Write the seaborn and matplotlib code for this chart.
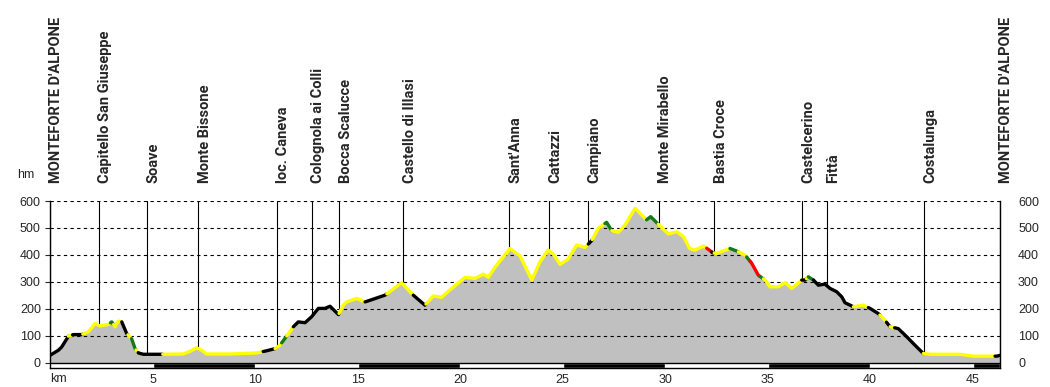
import numpy as np
import pandas as pd
import matplotlib
matplotlib.use("Agg")
import matplotlib.pyplot as plt
import seaborn as sns
from matplotlib.transforms import offset_copy

# elevation profile (km, metres)
km = [0, 0.41, 0.57, 0.9, 1.14, 1.55, 1.87, 2.2, 2.44, 2.85, 3.01, 3.17, 3.33, 3.5,
      3.74, 3.98, 4.15, 4.31, 4.55, 5.52, 6.5, 6.83, 7.15, 7.4, 7.64, 8.78, 10.08,
      10.57, 10.98, 11.22, 11.54, 11.87, 12.11, 12.44, 12.76, 13.09, 13.41, 13.66,
      14.07, 14.31, 14.47, 14.96, 15.37, 16.34, 17.15, 17.72, 18.29, 18.7, 19.1, 19.5,
      20.24, 20.73, 21.14, 21.38, 21.7, 22.44, 22.93, 23.5, 23.9, 24.3, 24.55, 24.88,
      25.28, 25.69, 26.1, 26.42, 26.75, 27.15, 27.4, 27.72, 28.05, 28.54, 29.1, 29.3,
      29.67, 30.16, 30.57, 30.9, 31.2, 31.46, 31.87, 32.11, 32.33, 32.52, 33.17, 33.58,
      33.9, 34.23, 34.55, 34.88, 35.12, 35.53, 35.85, 36.1, 36.18, 36.67, 36.83, 36.99,
      37.24, 37.48, 37.8, 38.05, 38.37, 38.62, 38.78, 39.19, 39.67, 40.0, 40.4, 40.65,
      40.98, 41.38, 41.79, 42.11, 42.6, 42.93, 44.39, 45.04, 46.18, 46.34]
elev = [28, 47, 59, 99, 105, 105, 115, 146, 137, 143, 152, 134, 155, 152,
        109, 90, 53, 37, 32, 32, 33, 43, 56, 47, 33, 33, 37,
        45, 53, 66, 99, 134, 152, 149, 171, 202, 202, 210,
        179, 214, 226, 239, 226, 251, 297, 251, 214, 248, 243, 270,
        317, 313, 329, 317, 354, 424, 396, 307, 375, 418, 403, 365,
        385, 437, 428, 453, 499, 521, 490, 484, 511, 573, 530, 542,
        514, 478, 486, 468, 424, 418, 433, 421, 408, 406, 424, 412,
        400, 369, 325, 307, 282, 282, 297, 282, 276, 307, 307, 319,
        307, 288, 292, 276, 264, 245, 223, 208, 214, 202, 183, 165,
        134, 127, 97, 72, 35, 32, 32, 25, 25, 28]

# coloured stretches of the track: start km and colour code
seg_start = [0, 0.9, 1.1, 1.6, 2.95, 3.1, 3.5, 3.8, 3.98, 4.2, 4.3, 5.5, 10.4, 10.98,
             11.3, 11.55, 11.87, 14.1, 15.37, 16.43, 17.72, 18.34, 26.26, 26.45, 27.07,
             27.4, 29.1, 29.67, 32.03, 32.28, 32.4, 33.17, 33.58, 33.98, 34.15, 34.63,
             34.8, 36.67, 36.9, 36.99, 37.24, 39.19, 39.92, 40.48, 40.8, 40.98, 41.2,
             42.6, 46.1]
seg_kind = list("kykygykygykykygykykykykygygyrkygygrgykygkykykykyk")

# waypoints
wp_names = ["MONTEFORTE D'ALPONE", "Capitello San Giuseppe", "Soave", "Monte Bissone",
            "loc. Caneva", "Colognola ai Colli", "Bocca Scalucce", "Castello di Illasi",
            "Sant'Anna", "Cattazzi", "Campiano", "Monte Mirabello", "Bastia Croce",
            "Castelcerino", "Fittà", "Costalunga", "MONTEFORTE D'ALPONE"]
wp_km = [0, 2.39, 4.72, 7.24, 11.05, 12.78, 14.1, 17.24, 22.39, 24.34, 26.24, 29.7,
         32.39, 36.68, 37.9, 42.63, 46.34]

y_ticks = [0, 100, 200, 300, 400, 500, 600]
x_ticks = [5, 10, 15, 20, 25, 30, 35, 40, 45]

colors = {"k": "#000000", "y": "#ffff00", "g": "#157a15", "r": "#ff0000"}

km = np.array(km)
elev = np.array(elev)
end_km = km[-1]

# build one frame with a row group per coloured stretch
rows = []
bounds = seg_start + [end_km]
for i in range(len(seg_start)):
    a, b = bounds[i], bounds[i + 1]
    inner = km[(km > a) & (km < b)]
    xs = np.concatenate([[a], inner, [b]])
    ys = np.interp(xs, km, elev)
    for x, y in zip(xs, ys):
        rows.append({"km": x, "elev": y, "seg": f"s{i:02d}"})
df = pd.DataFrame(rows)
palette = {f"s{i:02d}": colors[c] for i, c in enumerate(seg_kind)}

sns.set_style("white")
plt.rcParams["font.family"] = ["Liberation Sans", "DejaVu Sans"]

fig = plt.figure(figsize=(10.5, 3.87), dpi=100)
ax = fig.add_axes([50 / 1050, 1 - 367.5 / 387, 950 / 1050, (367.5 - 201) / 387])

ax.fill_between(km, elev, 0, color="#c0c0c0", lw=0, zorder=1)
sns.lineplot(data=df, x="km", y="elev", hue="seg", palette=palette, estimator=None,
             sort=False, legend=False, linewidth=2.4, ax=ax, zorder=4)

# grid
for v in y_ticks[1:]:
    ax.axhline(v, color="black", lw=0.8, ls=(0, (3, 3)), zorder=3)

# waypoint lines and labels
lab_tr = offset_copy(ax.get_xaxis_transform(), fig=fig, x=6.5, y=18, units="dots")
for name, k in zip(wp_names, wp_km):
    ax.plot([k, k], [np.interp(k, km, elev), 600], color="black", lw=0.8, zorder=3)
    ax.text(k, 1, name, transform=lab_tr, rotation=90, ha="center", va="bottom",
            fontsize=10.5, fontweight="bold", family=["Roboto", "DejaVu Sans"])

# km bar under the profile
ax.broken_barh([(5, 5), (15, 5), (25, 5), (35, 5), (45, end_km - 45)], (-17, 17),
               facecolors="black", zorder=2)
ax.axhline(0, color="black", lw=1, zorder=2)

ax.set_xlim(0, end_km)
ax.set_ylim(-17, 600)
ax.set_xticks(x_ticks)
ax.set_yticks(y_ticks)
ax.set_xlabel("")
ax.set_ylabel("")
ax.tick_params(axis="x", length=0, pad=5, labelsize=9)
ax.tick_params(axis="y", left=True, length=3.6, width=0.8, pad=3, labelsize=9)
for s in ["left", "right", "bottom"]:
    ax.spines[s].set_color("black")
    ax.spines[s].set_linewidth(1)
ax.spines["top"].set_visible(False)

ax2 = ax.twinx()
ax2.set_ylim(-17, 600)
ax2.set_yticks(y_ticks)
ax2.tick_params(axis="y", length=0, pad=13, labelsize=9)
for s in ax2.spines.values():
    s.set_visible(False)

fig.text(26 / 1050, 1 - 175 / 387, "hm", ha="center", va="center", fontsize=9)
fig.text(50 / 1050, 1 - 379 / 387, "km", ha="left", va="center", fontsize=9)

fig.savefig("out.png", dpi=100)
